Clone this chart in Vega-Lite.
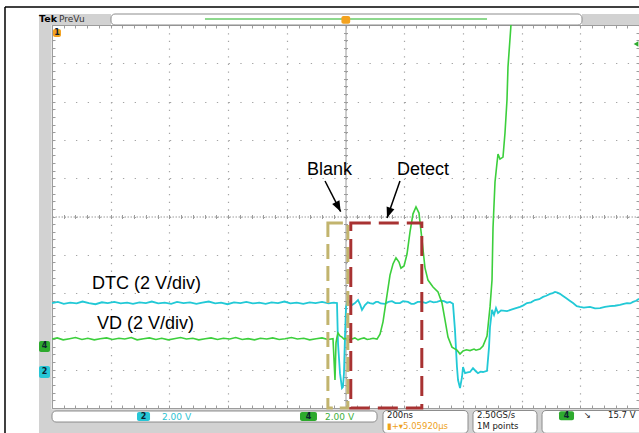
{
  "$schema": "https://vega.github.io/schema/vega-lite/v6.json",
  "width": 587,
  "height": 383,
  "autosize": {"type": "none"},
  "padding": {"left": 52, "top": 25, "right": 0, "bottom": 25},
  "background": "white",
  "config": {
    "view": {"stroke": null},
    "axis": {"labels": false, "grid": false, "ticks": false, "domain": false, "tickColor": "#9c9c9c", "domainColor": "#9c9c9c", "gridColor": "#a4a4a4", "tickWidth": 1, "domainWidth": 1}
  },
  "resolve": {"axis": {"x": "independent", "y": "independent"}},
  "datasets": {
    "cyan": [
      {"x":0.00,"y":2.74},{"x":0.10,"y":2.77},{"x":0.20,"y":2.72},{"x":0.31,"y":2.75},{"x":0.42,"y":2.73},{"x":0.52,"y":2.78},{"x":0.63,"y":2.74},{"x":0.74,"y":2.71},{"x":0.85,"y":2.76},{"x":0.95,"y":2.74},
      {"x":1.06,"y":2.77},{"x":1.17,"y":2.73},{"x":1.28,"y":2.75},{"x":1.38,"y":2.72},{"x":1.49,"y":2.76},{"x":1.60,"y":2.74},{"x":1.70,"y":2.78},{"x":1.81,"y":2.73},{"x":1.92,"y":2.75},{"x":2.03,"y":2.72},
      {"x":2.13,"y":2.77},{"x":2.24,"y":2.74},{"x":2.35,"y":2.76},{"x":2.46,"y":2.72},{"x":2.56,"y":2.75},{"x":2.67,"y":2.78},{"x":2.78,"y":2.73},{"x":2.88,"y":2.75},{"x":2.99,"y":2.71},{"x":3.10,"y":2.76},
      {"x":3.21,"y":2.74},{"x":3.31,"y":2.77},{"x":3.42,"y":2.73},{"x":3.53,"y":2.75},{"x":3.64,"y":2.72},{"x":3.74,"y":2.76},{"x":3.85,"y":2.74},{"x":3.96,"y":2.78},{"x":4.06,"y":2.73},{"x":4.17,"y":2.75},
      {"x":4.28,"y":2.72},{"x":4.39,"y":2.76},{"x":4.49,"y":2.74},{"x":4.60,"y":2.77},{"x":4.71,"y":2.73},{"x":4.80,"y":2.75},{"x":4.855,"y":2.74},
      {"x":4.872,"y":1.70},{"x":4.906,"y":0.91},{"x":4.940,"y":0.52},{"x":4.957,"y":0.55},{"x":4.974,"y":0.91},{"x":4.991,"y":1.85},{"x":5.009,"y":2.64},{"x":5.043,"y":2.82},{"x":5.08,"y":2.75},{"x":5.111,"y":2.69},
      {"x":5.162,"y":2.74},{"x":5.213,"y":2.82},{"x":5.25,"y":2.70},{"x":5.281,"y":2.56},{"x":5.332,"y":2.69},{"x":5.38,"y":2.76},{"x":5.417,"y":2.74},{"x":5.47,"y":2.72},{"x":5.52,"y":2.77},{"x":5.554,"y":2.77},
      {"x":5.60,"y":2.73},{"x":5.673,"y":2.72},{"x":5.73,"y":2.77},{"x":5.792,"y":2.79},{"x":5.85,"y":2.74},{"x":5.928,"y":2.74},{"x":5.98,"y":2.79},{"x":6.065,"y":2.77},{"x":6.12,"y":2.72},{"x":6.167,"y":2.72},
      {"x":6.23,"y":2.77},{"x":6.303,"y":2.77},{"x":6.37,"y":2.74},{"x":6.44,"y":2.79},{"x":6.50,"y":2.76},{"x":6.559,"y":2.77},{"x":6.62,"y":2.80},{"x":6.678,"y":2.79},{"x":6.73,"y":2.75},{"x":6.78,"y":2.77},
      {"x":6.831,"y":2.72},{"x":6.865,"y":2.04},{"x":6.899,"y":1.07},{"x":6.917,"y":0.73},{"x":6.951,"y":0.52},{"x":6.985,"y":0.81},{"x":7.002,"y":1.07},{"x":7.036,"y":0.91},{"x":7.08,"y":0.93},{"x":7.121,"y":0.94},
      {"x":7.172,"y":1.04},{"x":7.22,"y":0.96},{"x":7.257,"y":0.91},{"x":7.30,"y":0.95},{"x":7.342,"y":0.94},{"x":7.411,"y":0.97},{"x":7.445,"y":1.59},{"x":7.462,"y":2.12},{"x":7.496,"y":2.56},{"x":7.53,"y":2.43},
      {"x":7.564,"y":2.61},{"x":7.598,"y":2.48},{"x":7.65,"y":2.55},{"x":7.751,"y":2.53},{"x":7.85,"y":2.58},{"x":7.973,"y":2.64},{"x":8.03,"y":2.68},{"x":8.092,"y":2.74},{"x":8.16,"y":2.76},{"x":8.228,"y":2.82},
      {"x":8.30,"y":2.84},{"x":8.365,"y":2.90},{"x":8.42,"y":2.93},{"x":8.484,"y":2.98},{"x":8.53,"y":3.00},{"x":8.569,"y":3.03},{"x":8.61,"y":3.01},{"x":8.654,"y":2.98},{"x":8.70,"y":2.93},{"x":8.756,"y":2.87},
      {"x":8.82,"y":2.80},{"x":8.876,"y":2.74},{"x":8.94,"y":2.66},{"x":8.995,"y":2.64},{"x":9.06,"y":2.62},{"x":9.165,"y":2.64},{"x":9.25,"y":2.60},{"x":9.336,"y":2.61},{"x":9.42,"y":2.64},{"x":9.506,"y":2.66},
      {"x":9.59,"y":2.67},{"x":9.676,"y":2.69},{"x":9.74,"y":2.72},{"x":9.796,"y":2.74},{"x":9.85,"y":2.73},{"x":9.898,"y":2.77},{"x":9.95,"y":2.80},{"x":10.0,"y":2.85}
    ],
    "green": [
      {"x":0.00,"y":1.80},{"x":0.09,"y":1.83},{"x":0.19,"y":1.78},{"x":0.30,"y":1.81},{"x":0.40,"y":1.84},{"x":0.51,"y":1.79},{"x":0.61,"y":1.82},{"x":0.72,"y":1.78},{"x":0.82,"y":1.81},{"x":0.93,"y":1.83},
      {"x":1.03,"y":1.79},{"x":1.14,"y":1.82},{"x":1.24,"y":1.80},{"x":1.35,"y":1.84},{"x":1.45,"y":1.78},{"x":1.56,"y":1.81},{"x":1.66,"y":1.83},{"x":1.77,"y":1.79},{"x":1.87,"y":1.82},{"x":1.98,"y":1.78},
      {"x":2.08,"y":1.81},{"x":2.19,"y":1.84},{"x":2.29,"y":1.80},{"x":2.40,"y":1.82},{"x":2.50,"y":1.78},{"x":2.61,"y":1.81},{"x":2.71,"y":1.83},{"x":2.82,"y":1.79},{"x":2.92,"y":1.82},{"x":3.03,"y":1.80},
      {"x":3.13,"y":1.84},{"x":3.24,"y":1.79},{"x":3.34,"y":1.81},{"x":3.45,"y":1.78},{"x":3.55,"y":1.82},{"x":3.66,"y":1.80},{"x":3.76,"y":1.83},{"x":3.87,"y":1.79},{"x":3.97,"y":1.81},{"x":4.08,"y":1.84},
      {"x":4.18,"y":1.80},{"x":4.29,"y":1.82},{"x":4.39,"y":1.78},{"x":4.50,"y":1.81},{"x":4.60,"y":1.83},{"x":4.70,"y":1.79},{"x":4.787,"y":1.81},{"x":4.821,"y":0.73},{"x":4.838,"y":1.70},{"x":4.855,"y":1.85},
      {"x":4.872,"y":1.96},{"x":4.906,"y":1.88},{"x":4.94,"y":1.85},{"x":4.974,"y":1.80},{"x":5.009,"y":1.82},{"x":5.06,"y":1.78},{"x":5.111,"y":1.80},{"x":5.16,"y":1.83},{"x":5.213,"y":1.78},{"x":5.26,"y":1.81},
      {"x":5.315,"y":1.83},{"x":5.37,"y":1.79},{"x":5.417,"y":1.80},{"x":5.47,"y":1.82},{"x":5.537,"y":1.80},{"x":5.588,"y":1.93},{"x":5.639,"y":2.25},{"x":5.707,"y":2.95},{"x":5.758,"y":3.47},{"x":5.809,"y":3.76},
      {"x":5.86,"y":3.92},{"x":5.911,"y":3.81},{"x":5.945,"y":3.65},{"x":5.997,"y":3.71},{"x":6.048,"y":4.02},{"x":6.099,"y":4.60},{"x":6.15,"y":5.07},{"x":6.201,"y":5.25},{"x":6.252,"y":5.09},{"x":6.303,"y":4.39},
      {"x":6.354,"y":3.66},{"x":6.405,"y":3.34},{"x":6.491,"y":3.16},{"x":6.576,"y":3.03},{"x":6.644,"y":2.74},{"x":6.695,"y":2.30},{"x":6.746,"y":1.85},{"x":6.814,"y":1.59},{"x":6.899,"y":1.51},{"x":6.951,"y":1.41},
      {"x":7.002,"y":1.49},{"x":7.06,"y":1.52},{"x":7.121,"y":1.50},{"x":7.19,"y":1.54},{"x":7.223,"y":1.51},{"x":7.291,"y":1.54},{"x":7.342,"y":1.62},{"x":7.411,"y":1.88},{"x":7.462,"y":2.64},{"x":7.496,"y":3.34},
      {"x":7.513,"y":4.70},{"x":7.547,"y":5.90},{"x":7.581,"y":6.40},{"x":7.598,"y":6.63},{"x":7.632,"y":6.50},{"x":7.683,"y":6.55},{"x":7.717,"y":7.18},{"x":7.751,"y":8.04},{"x":7.768,"y":8.90},{"x":7.819,"y":10.0},{"x":7.853,"y":11.2}
    ],
    "chrome": [
      {"x0":-0.2215,"x1":-0.008,"y0":-0.7,"y1":10.287},
      {"x0":-0.2215,"x1":10.2,"y0":-0.7,"y1":-0.035},
      {"x0":-0.2215,"x1":1.005,"y0":10.0,"y1":10.287},
      {"x0":9.029,"x1":10.2,"y0":10.0,"y1":10.287}
    ],
    "panels": [
      {"x0":1.005,"x1":9.029,"y0":10.0,"y1":10.287},
      {"x0":0.0,"x1":5.537,"y0":-0.366,"y1":-0.078},
      {"x0":5.639,"x1":7.087,"y0":-0.66,"y1":-0.065},
      {"x0":7.172,"x1":8.262,"y0":-0.66,"y1":-0.065},
      {"x0":8.348,"x1":10.25,"y0":-0.66,"y1":-0.065}
    ],
    "boxes": [
      {"box":"Blank","x0":4.70,"x1":5.04,"y0":0.0,"y1":4.83},
      {"box":"Detect","x0":5.09,"x1":6.30,"y0":0.0,"y1":4.83}
    ],
    "arrows": [
      {"label":"Blank","x":4.651,"y":5.927,"xe":4.918,"ye":5.125},
      {"label":"Detect","x":5.928,"y":5.927,"xe":5.707,"ye":4.961}
    ],
    "labels": [
      {"t":"Blank","x":4.344,"y":6.21},
      {"t":"Detect","x":5.877,"y":6.21},
      {"t":"DTC (2 V/div)","x":0.681,"y":3.24},
      {"t":"VD (2 V/div)","x":0.767,"y":2.19}
    ],
    "markers": [
      {"ch":"2","x0":1.448,"x1":1.670,"y0":-0.339,"y1":-0.104},
      {"ch":"4","x0":4.225,"x1":4.514,"y0":-0.339,"y1":-0.104},
      {"ch":"4","x0":8.637,"x1":8.893,"y0":-0.32,"y1":-0.085},
      {"ch":"4","x0":-0.2215,"x1":-0.034,"y0":1.462,"y1":1.749},
      {"ch":"2","x0":-0.2215,"x1":-0.034,"y0":0.783,"y1":1.097},
      {"ch":"o","x0":0.017,"x1":0.153,"y0":9.687,"y1":9.896},
      {"ch":"o","x0":4.93,"x1":5.08,"y0":10.03,"y1":10.235}
    ],
    "markerText": [
      {"t":"2","x":1.559,"y":-0.222},
      {"t":"4","x":4.37,"y":-0.222},
      {"t":"4","x":8.765,"y":-0.203},
      {"t":"4","x":-0.128,"y":1.606},
      {"t":"2","x":-0.128,"y":0.94},
      {"t":"1","x":0.085,"y":9.79}
    ],
    "infoCyan": [{"t":"2.00 V","x":1.874,"y":-0.235}],
    "infoGreen": [{"t":"2.00 V","x":4.651,"y":-0.235}],
    "infoBlack": [
      {"t":"200ns","x":5.707,"y":-0.185},
      {"t":"2.50GS/s","x":7.24,"y":-0.185},
      {"t":"1M points","x":7.24,"y":-0.48},
      {"t":"↘","x":9.06,"y":-0.195},
      {"t":"15.7 V","x":9.472,"y":-0.195}
    ],
    "infoOrange": [{"t":"▮+▾5.05920µs","x":5.707,"y":-0.48}],
    "tek": [{"t":"Tek","x":-0.2215,"y":10.16}],
    "prevu": [{"t":"PreVu","x":0.12,"y":10.16}],
    "header": [{"x0":2.606,"x1":7.411,"y":10.157}],
    "trig": [{"x":9.949,"y":9.504}],
    "frame": [
      {"x0":-0.8007,"x1":-0.8007,"y0":-0.8,"y1":10.47},
      {"x0":-0.8007,"x1":10.2,"y0":10.47,"y1":10.47}
    ]
  },
  "layer": [
    {
      "data": {"name": "chrome"},
      "mark": {"type": "rect", "fill": "#d2d2d2"},
      "encoding": {
        "x": {"field": "x0", "type": "quantitative", "scale": {"domain": [0, 10], "nice": false, "zero": false}, "axis": null},
        "x2": {"field": "x1"},
        "y": {"field": "y0", "type": "quantitative", "scale": {"domain": [0, 10], "nice": false, "zero": false}, "axis": null},
        "y2": {"field": "y1"}
      }
    },
    {
      "data": {"name": "panels"},
      "mark": {"type": "rect", "fill": "white", "stroke": "#8c8c8c", "strokeWidth": 1, "cornerRadius": 4},
      "encoding": {
        "x": {"field": "x0", "type": "quantitative", "axis": null},
        "x2": {"field": "x1"},
        "y": {"field": "y0", "type": "quantitative", "axis": null},
        "y2": {"field": "y1"}
      }
    },
    {
      "data": {"name": "cyan"},
      "mark": {"type": "line", "color": "#22c9d6", "strokeWidth": 1.8, "clip": true},
      "encoding": {
        "x": {"field": "x", "type": "quantitative", "title": null, "axis": {"orient": "bottom", "values": [0,1,2,3,4,5,6,7,8,9,10], "grid": true, "gridDash": [1.3, 6.36], "gridWidth": 1.2}},
        "y": {"field": "y", "type": "quantitative", "title": null, "axis": {"orient": "left", "values": [0,1,2,3,4,5,6,7,8,9,10], "grid": true, "gridDash": [1.3, 10.44], "gridWidth": 1.2}}
      }
    },
    {
      "data": {"name": "green"},
      "mark": {"type": "line", "color": "#3ccf3c", "strokeWidth": 1.6, "clip": true},
      "encoding": {
        "x": {"field": "x", "type": "quantitative", "title": null, "axis": {"orient": "bottom", "values": [0,0.2,0.4,0.6,0.8,1,1.2,1.4,1.6,1.8,2,2.2,2.4,2.6,2.8,3,3.2,3.4,3.6,3.8,4,4.2,4.4,4.6,4.8,5,5.2,5.4,5.6,5.8,6,6.2,6.4,6.6,6.8,7,7.2,7.4,7.6,7.8,8,8.2,8.4,8.6,8.8,9,9.2,9.4,9.6,9.8,10], "ticks": true, "tickSize": -3, "domain": true}},
        "y": {"field": "y", "type": "quantitative", "title": null, "axis": {"orient": "left", "values": [0,0.2,0.4,0.6,0.8,1,1.2,1.4,1.6,1.8,2,2.2,2.4,2.6,2.8,3,3.2,3.4,3.6,3.8,4,4.2,4.4,4.6,4.8,5,5.2,5.4,5.6,5.8,6,6.2,6.4,6.6,6.8,7,7.2,7.4,7.6,7.8,8,8.2,8.4,8.6,8.8,9,9.2,9.4,9.6,9.8,10], "ticks": true, "tickSize": -3, "domain": true}}
      }
    },
    {
      "data": {"name": "boxes"},
      "transform": [{"filter": "datum.box === 'Blank'"}],
      "mark": {"type": "rect", "fill": null, "fillOpacity": 0, "stroke": "#c2b46e", "strokeWidth": 3, "strokeDash": [15, 7]},
      "encoding": {
        "x": {"field": "x0", "type": "quantitative", "axis": null},
        "x2": {"field": "x1"},
        "y": {"field": "y0", "type": "quantitative", "axis": null},
        "y2": {"field": "y1"}
      }
    },
    {
      "data": {"name": "boxes"},
      "transform": [{"filter": "datum.box === 'Detect'"}],
      "mark": {"type": "rect", "fill": null, "fillOpacity": 0, "stroke": "#a83232", "strokeWidth": 3, "strokeDash": [20, 8]},
      "encoding": {
        "x": {"field": "x0", "type": "quantitative", "title": null, "axis": {"orient": "top", "values": [0,0.2,0.4,0.6,0.8,1,1.2,1.4,1.6,1.8,2,2.2,2.4,2.6,2.8,3,3.2,3.4,3.6,3.8,4,4.2,4.4,4.6,4.8,5,5.2,5.4,5.6,5.8,6,6.2,6.4,6.6,6.8,7,7.2,7.4,7.6,7.8,8,8.2,8.4,8.6,8.8,9,9.2,9.4,9.6,9.8,10], "ticks": true, "tickSize": -3, "domain": true}},
        "x2": {"field": "x1"},
        "y": {"field": "y0", "type": "quantitative", "title": null, "axis": {"orient": "right", "values": [0,0.2,0.4,0.6,0.8,1,1.2,1.4,1.6,1.8,2,2.2,2.4,2.6,2.8,3,3.2,3.4,3.6,3.8,4,4.2,4.4,4.6,4.8,5,5.2,5.4,5.6,5.8,6,6.2,6.4,6.6,6.8,7,7.2,7.4,7.6,7.8,8,8.2,8.4,8.6,8.8,9,9.2,9.4,9.6,9.8,10], "ticks": true, "tickSize": -3, "domain": true}},
        "y2": {"field": "y1"}
      }
    },
    {
      "data": {"name": "arrows"},
      "mark": {"type": "rule", "color": "black", "strokeWidth": 1.5},
      "encoding": {
        "x": {"field": "x", "type": "quantitative", "title": null, "axis": {"orient": "top", "offset": -191.5, "values": [0,0.2,0.4,0.6,0.8,1,1.2,1.4,1.6,1.8,2,2.2,2.4,2.6,2.8,3,3.2,3.4,3.6,3.8,4,4.2,4.4,4.6,4.8,5,5.2,5.4,5.6,5.8,6,6.2,6.4,6.6,6.8,7,7.2,7.4,7.6,7.8,8,8.2,8.4,8.6,8.8,9,9.2,9.4,9.6,9.8,10], "ticks": true, "tickSize": 2, "domain": false}},
        "x2": {"field": "xe"},
        "y": {"field": "y", "type": "quantitative", "title": null, "axis": {"orient": "right", "offset": -293.5, "values": [0,0.2,0.4,0.6,0.8,1,1.2,1.4,1.6,1.8,2,2.2,2.4,2.6,2.8,3,3.2,3.4,3.6,3.8,4,4.2,4.4,4.6,4.8,5,5.2,5.4,5.6,5.8,6,6.2,6.4,6.6,6.8,7,7.2,7.4,7.6,7.8,8,8.2,8.4,8.6,8.8,9,9.2,9.4,9.6,9.8,10], "ticks": true, "tickSize": 2, "domain": false}},
        "y2": {"field": "ye"}
      }
    },
    {
      "data": {"name": "arrows"},
      "transform": [{"filter": "datum.label === 'Blank'"}],
      "mark": {"type": "point", "shape": "M0,0L-0.42,1.1L0.42,1.1Z", "filled": true, "color": "black", "opacity": 1, "size": 380, "angle": 153},
      "encoding": {
        "x": {"field": "xe", "type": "quantitative", "axis": null},
        "y": {"field": "ye", "type": "quantitative", "axis": null}
      }
    },
    {
      "data": {"name": "arrows"},
      "transform": [{"filter": "datum.label === 'Detect'"}],
      "mark": {"type": "point", "shape": "M0,0L-0.42,1.1L0.42,1.1Z", "filled": true, "color": "black", "opacity": 1, "size": 380, "angle": 199},
      "encoding": {
        "x": {"field": "xe", "type": "quantitative", "axis": null},
        "y": {"field": "ye", "type": "quantitative", "axis": null}
      }
    },
    {
      "data": {"name": "labels"},
      "mark": {"type": "text", "align": "left", "baseline": "middle", "font": "Liberation Sans", "fontSize": 18, "color": "black"},
      "encoding": {
        "x": {"field": "x", "type": "quantitative", "title": null, "axis": {"orient": "bottom", "offset": -191.5, "values": [0,0.2,0.4,0.6,0.8,1,1.2,1.4,1.6,1.8,2,2.2,2.4,2.6,2.8,3,3.2,3.4,3.6,3.8,4,4.2,4.4,4.6,4.8,5,5.2,5.4,5.6,5.8,6,6.2,6.4,6.6,6.8,7,7.2,7.4,7.6,7.8,8,8.2,8.4,8.6,8.8,9,9.2,9.4,9.6,9.8,10], "ticks": true, "tickSize": 2, "domain": true, "domainDash": [1.5, 1.5]}},
        "y": {"field": "y", "type": "quantitative", "title": null, "axis": {"orient": "left", "offset": -293.5, "values": [0,0.2,0.4,0.6,0.8,1,1.2,1.4,1.6,1.8,2,2.2,2.4,2.6,2.8,3,3.2,3.4,3.6,3.8,4,4.2,4.4,4.6,4.8,5,5.2,5.4,5.6,5.8,6,6.2,6.4,6.6,6.8,7,7.2,7.4,7.6,7.8,8,8.2,8.4,8.6,8.8,9,9.2,9.4,9.6,9.8,10], "ticks": true, "tickSize": 2, "domain": true}},
        "text": {"field": "t"}
      }
    },
    {
      "data": {"name": "header"},
      "mark": {"type": "rule", "color": "#8ed88e", "strokeWidth": 2},
      "encoding": {
        "x": {"field": "x0", "type": "quantitative", "axis": null},
        "x2": {"field": "x1"},
        "y": {"field": "y", "type": "quantitative", "axis": null}
      }
    },
    {
      "data": {"name": "markers"},
      "mark": {"type": "rect", "cornerRadius": 2},
      "encoding": {
        "x": {"field": "x0", "type": "quantitative", "axis": null},
        "x2": {"field": "x1"},
        "y": {"field": "y0", "type": "quantitative", "axis": null},
        "y2": {"field": "y1"},
        "fill": {"field": "ch", "type": "nominal", "scale": {"domain": ["2", "4", "o"], "range": ["#27c6d6", "#2eaa2e", "#f3a21f"]}, "legend": null}
      }
    },
    {
      "data": {"name": "markerText"},
      "mark": {"type": "text", "align": "center", "baseline": "middle", "font": "DejaVu Sans", "fontSize": 8, "fontWeight": "bold", "color": "#0d2230"},
      "encoding": {
        "x": {"field": "x", "type": "quantitative", "axis": null},
        "y": {"field": "y", "type": "quantitative", "axis": null},
        "text": {"field": "t"}
      }
    },
    {
      "data": {"name": "infoCyan"},
      "mark": {"type": "text", "align": "left", "baseline": "middle", "font": "DejaVu Sans", "fontSize": 9, "color": "#2cc3d3"},
      "encoding": {
        "x": {"field": "x", "type": "quantitative", "axis": null},
        "y": {"field": "y", "type": "quantitative", "axis": null},
        "text": {"field": "t"}
      }
    },
    {
      "data": {"name": "infoGreen"},
      "mark": {"type": "text", "align": "left", "baseline": "middle", "font": "DejaVu Sans", "fontSize": 9, "color": "#3daf3d"},
      "encoding": {
        "x": {"field": "x", "type": "quantitative", "axis": null},
        "y": {"field": "y", "type": "quantitative", "axis": null},
        "text": {"field": "t"}
      }
    },
    {
      "data": {"name": "infoBlack"},
      "mark": {"type": "text", "align": "left", "baseline": "middle", "font": "DejaVu Sans", "fontSize": 8.5, "color": "#1a1a1a"},
      "encoding": {
        "x": {"field": "x", "type": "quantitative", "axis": null},
        "y": {"field": "y", "type": "quantitative", "axis": null},
        "text": {"field": "t"}
      }
    },
    {
      "data": {"name": "infoOrange"},
      "mark": {"type": "text", "align": "left", "baseline": "middle", "font": "DejaVu Sans", "fontSize": 8.5, "color": "#eea21c"},
      "encoding": {
        "x": {"field": "x", "type": "quantitative", "axis": null},
        "y": {"field": "y", "type": "quantitative", "axis": null},
        "text": {"field": "t"}
      }
    },
    {
      "data": {"name": "tek"},
      "mark": {"type": "text", "align": "left", "baseline": "middle", "font": "DejaVu Sans", "fontSize": 9.5, "fontWeight": "bold", "color": "black"},
      "encoding": {
        "x": {"field": "x", "type": "quantitative", "axis": null},
        "y": {"field": "y", "type": "quantitative", "axis": null},
        "text": {"field": "t"}
      }
    },
    {
      "data": {"name": "prevu"},
      "mark": {"type": "text", "align": "left", "baseline": "middle", "font": "DejaVu Sans", "fontSize": 9, "color": "#333333"},
      "encoding": {
        "x": {"field": "x", "type": "quantitative", "axis": null},
        "y": {"field": "y", "type": "quantitative", "axis": null},
        "text": {"field": "t"}
      }
    },
    {
      "data": {"name": "trig"},
      "mark": {"type": "point", "shape": "triangle-left", "filled": true, "color": "#2eaa2e", "opacity": 1, "size": 30},
      "encoding": {
        "x": {"field": "x", "type": "quantitative", "axis": null},
        "y": {"field": "y", "type": "quantitative", "axis": null}
      }
    },
    {
      "data": {"name": "frame"},
      "mark": {"type": "rule", "color": "black", "strokeWidth": 1.5},
      "encoding": {
        "x": {"field": "x0", "type": "quantitative", "axis": null},
        "x2": {"field": "x1"},
        "y": {"field": "y0", "type": "quantitative", "axis": null},
        "y2": {"field": "y1"}
      }
    }
  ]
}
